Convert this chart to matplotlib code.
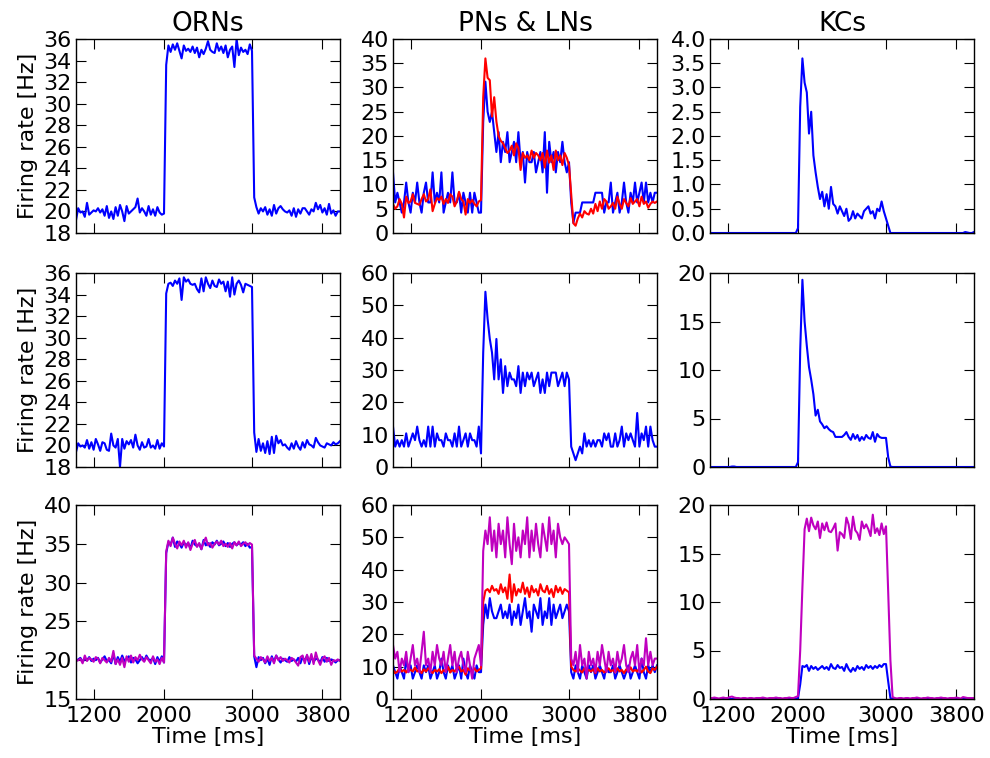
'''firing rates of the olfactory model, three conditions'''

import numpy as np
from matplotlib import pyplot as plt

# time axis of the rate histograms (25 ms bins)
time = np.arange(1000, 4001, 25)

titles = ['ORNs', 'PNs & LNs', 'KCs']
xticks = [1200, 2000, 3000, 3800]

# ---- ORNs ----
orn_1 = [19.2, 20.3, 19.9, 20.0, 19.5, 20.8, 19.7, 19.9, 20.1, 20.0,
         20.3, 19.9, 20.2, 19.6, 20.5, 19.4, 20.0, 19.3, 20.4, 19.6,
         20.6, 20.0, 19.1, 20.5, 19.8, 20.0, 20.2, 20.4, 21.2, 19.9,
         20.3, 20.0, 19.6, 20.5, 19.7, 20.2, 19.6, 20.4, 19.9, 19.7,
         19.8, 33.6, 35.4, 34.8, 35.5, 35.0, 35.6, 34.9, 34.2, 35.4,
         34.9, 35.1, 34.8, 35.3, 34.7, 35.2, 34.3, 35.0, 34.6, 35.1,
         35.8, 35.0, 34.8, 34.7, 35.6, 34.9, 35.3, 34.7, 35.4, 34.3,
         35.0, 35.3, 33.4, 36.0, 34.5, 35.2, 34.8, 35.0, 34.6, 35.5,
         34.9, 21.3, 20.4, 19.8, 20.3, 20.0, 20.4, 19.7, 20.2, 19.6,
         20.6, 19.8, 20.3, 20.5, 20.2, 20.0, 19.9, 20.1, 19.6, 20.3,
         19.5, 20.2, 19.8, 20.3, 20.3, 20.0, 19.7, 20.2, 20.0, 20.8,
         20.2, 20.6, 19.9, 20.3, 19.7, 20.7, 19.8, 20.1, 19.6, 20.0,
         20.0]
orn_2 = [19.4, 20.2, 19.9, 20.0, 19.8, 20.5, 19.7, 20.3, 19.6, 20.6,
         20.1, 19.5, 20.3, 20.2, 19.6, 19.5, 21.1, 20.0, 19.8, 20.6,
         18.0, 20.6, 19.7, 20.4, 20.1, 20.5, 19.8, 21.0, 20.0, 19.6,
         20.3, 19.8, 19.9, 20.6, 19.8, 20.0, 19.7, 20.5, 19.7, 20.2,
         19.9, 34.1, 35.0, 35.1, 34.8, 35.3, 35.0, 35.5, 33.5, 35.6,
         35.2, 35.4, 35.0, 34.9, 35.0, 34.5, 34.2, 35.5, 34.3, 35.6,
         35.0, 34.6, 35.3, 34.8, 34.7, 35.4, 35.0, 35.2, 34.3, 35.2,
         33.8, 35.6, 34.0, 35.0, 35.3, 34.9, 34.2, 35.0, 34.9, 34.8,
         34.7, 21.2, 19.4, 20.6, 19.5, 20.2, 19.3, 20.4, 19.2, 20.8,
         19.3, 20.9, 20.2, 20.5, 20.0, 20.1, 19.8, 19.6, 20.2, 19.7,
         20.4, 19.9, 19.6, 20.3, 19.8, 20.5, 20.1, 20.0, 19.8, 20.7,
         20.3, 20.0, 19.9, 19.8, 20.2, 20.1, 20.0, 20.3, 20.1, 20.2,
         20.4]
orn_3b = [19.9, 20.1, 20.3, 19.8, 20.2, 20.0, 20.4, 19.9, 20.2, 20.0,
          20.3, 19.7, 20.1, 20.5, 19.9, 20.0, 19.6, 20.8, 19.5, 20.4,
          19.8, 20.6, 19.9, 20.2, 20.5, 19.7, 20.3, 20.1, 19.6, 20.0,
          20.4, 19.9, 20.6, 20.1, 20.0, 20.3, 19.5, 20.4, 19.8, 20.5,
          19.7, 33.8, 35.2, 34.9, 35.8, 34.6, 35.3, 35.0, 34.5, 35.2,
          34.8, 35.1, 34.4, 35.4, 34.9, 34.7, 35.0, 34.3, 35.5, 34.8,
          35.1, 34.6, 35.2, 34.9, 35.4, 34.8, 35.0, 35.3, 34.7, 35.1,
          34.6, 35.0, 35.2, 34.8, 35.1, 34.9, 35.2, 34.7, 35.0, 34.5,
          34.6, 20.5, 19.1, 20.4, 20.0, 20.3, 19.6, 20.2, 19.4, 20.5,
          19.8, 20.6, 20.1, 19.7, 20.2, 20.0, 19.8, 20.4, 19.9, 20.1,
          19.8, 20.3, 19.6, 20.4, 19.9, 20.6, 19.5, 20.5, 19.8, 20.2,
          20.1, 19.7, 20.4, 19.8, 20.3, 19.9, 20.1, 20.0, 19.7, 20.0,
          20.0]
orn_3m = [19.9, 20.0, 20.2, 19.6, 20.6, 19.9, 20.3, 20.1, 19.8, 20.4,
          20.2, 19.6, 20.3, 20.0, 19.7, 20.3, 19.8, 21.2, 19.5, 20.1,
          19.4, 20.3, 19.1, 20.5, 19.8, 20.6, 19.7, 20.4, 20.0, 20.7,
          20.1, 19.8, 20.4, 20.0, 19.6, 20.5, 19.8, 20.1, 19.5, 20.3,
          19.7, 34.0, 35.4, 34.7, 35.8, 35.0, 34.4, 35.3, 34.8, 35.4,
          34.5, 35.2, 34.2, 35.0, 35.5, 34.6, 35.1, 34.3, 35.2, 35.8,
          34.8, 35.1, 34.5, 35.0, 35.3, 34.9, 35.4, 34.7, 35.0, 34.6,
          35.1, 34.4, 35.2, 34.8, 35.3, 34.7, 35.0, 35.2, 34.8, 35.1,
          34.9, 20.6, 20.2, 19.8, 20.4, 20.1, 19.7, 20.5, 19.9, 20.3,
          19.6, 20.6, 20.0, 20.4, 19.9, 20.2, 20.0, 19.7, 20.3, 20.1,
          19.7, 19.3, 20.4, 20.6, 19.6, 20.7, 19.8, 20.8, 19.5, 21.0,
          20.0, 19.4, 20.2, 20.5, 19.8, 20.3, 19.4, 20.0, 19.9, 20.1,
          19.9]

# ---- PNs (blue), LNs (red), third condition (magenta) ----
pn_1b = [12.5, 6.3, 8.3, 6.3, 4.2, 6.3, 10.4, 6.3, 4.2, 8.3,
         6.3, 10.4, 6.3, 4.2, 8.3, 10.4, 6.3, 6.3, 12.5, 6.3,
         8.3, 6.3, 12.5, 4.2, 6.3, 8.3, 6.3, 12.5, 6.3, 6.3,
         8.3, 4.2, 8.3, 6.3, 4.2, 8.3, 4.2, 8.3, 6.3, 4.2,
         4.2, 22.9, 31.2, 25.0, 22.9, 25.0, 20.8, 16.7, 20.8, 14.6,
         18.8, 16.7, 20.8, 14.6, 16.7, 18.8, 14.6, 20.8, 14.6, 16.7,
         10.4, 16.7, 14.6, 14.6, 16.7, 12.5, 14.6, 16.7, 12.5, 20.8,
         8.3, 18.8, 14.6, 16.7, 12.5, 16.7, 14.6, 18.8, 14.6, 12.5,
         14.6, 6.3, 2.1, 4.2, 4.2, 4.2, 6.3, 6.3, 6.3, 6.3,
         6.3, 6.3, 8.3, 8.3, 8.3, 8.3, 4.2, 6.3, 6.3, 10.4,
         4.2, 6.3, 8.3, 4.2, 6.3, 10.4, 6.3, 4.2, 8.3, 6.3,
         10.4, 6.3, 8.3, 10.4, 6.3, 10.4, 6.3, 8.3, 6.3, 8.3,
         8.3]
pn_1r = [6.0, 5.0, 5.5, 7.0, 6.0, 3.2, 7.5, 6.2, 6.5, 8.0,
         6.2, 6.0, 5.8, 7.0, 8.0, 6.5, 7.0, 9.0, 4.5, 6.0,
         7.2, 6.8, 7.5, 6.0, 7.0, 6.2, 8.0, 7.5, 5.5, 6.5,
         8.5, 7.0, 6.5, 3.8, 7.0, 6.2, 6.8, 6.0, 5.5, 6.5,
         6.8, 28.0, 36.0, 32.0, 31.5, 24.0, 28.0, 23.0, 20.0, 19.0,
         18.5, 17.5, 16.5, 17.0, 18.0, 16.0, 18.5, 17.5, 13.0, 16.5,
         15.5, 16.0, 15.0, 17.0, 15.5, 16.5, 16.0, 15.0, 16.5, 13.5,
         17.0, 14.5, 16.0, 13.0, 17.0, 15.0, 16.0, 14.0, 16.5, 15.5,
         14.0, 8.0, 2.0, 1.5, 3.0, 4.0, 3.2, 4.5, 4.0, 3.8,
         5.0, 4.0, 6.0, 4.5, 6.5, 5.0, 7.0, 6.5, 5.0, 5.5,
         6.2, 5.0, 7.5, 6.0, 5.0, 7.0, 6.2, 5.5, 7.2, 6.0,
         6.5, 7.0, 5.5, 7.5, 6.0, 6.5, 5.2, 6.0, 6.5, 6.2,
         6.5]
pn_2b = [12.5, 6.3, 8.3, 6.3, 8.3, 6.3, 10.4, 6.3, 8.3, 10.4,
         8.3, 12.5, 8.3, 6.3, 8.3, 6.3, 12.5, 6.3, 12.5, 6.3,
         10.4, 8.3, 8.3, 6.3, 10.4, 8.3, 8.3, 6.3, 10.4, 6.3,
         12.5, 6.3, 8.3, 10.4, 6.3, 10.4, 8.3, 8.3, 6.3, 12.5,
         4.2, 35.4, 54.2, 45.8, 39.6, 35.4, 27.1, 39.6, 27.1, 33.3,
         22.9, 31.2, 25.0, 29.2, 27.1, 27.1, 25.0, 31.2, 22.9, 29.2,
         25.0, 29.2, 27.1, 29.2, 25.0, 27.1, 29.2, 22.9, 27.1, 22.9,
         29.2, 25.0, 29.2, 29.2, 29.2, 25.0, 27.1, 29.2, 25.0, 29.2,
         27.1, 6.3, 4.2, 2.1, 4.2, 6.3, 4.2, 10.4, 6.3, 8.3,
         6.3, 8.3, 6.3, 8.3, 8.3, 6.3, 10.4, 8.3, 10.4, 6.3,
         6.3, 10.4, 6.3, 8.3, 12.5, 6.3, 10.4, 8.3, 10.4, 8.3,
         6.3, 16.7, 6.3, 10.4, 8.3, 12.5, 6.3, 12.5, 8.3, 6.3,
         6.3]
pn_3b = [10.4, 8.3, 6.3, 10.4, 8.3, 6.3, 12.5, 8.3, 10.4, 6.3,
         8.3, 10.4, 8.3, 6.3, 10.4, 8.3, 10.4, 6.3, 8.3, 10.4,
         6.3, 8.3, 12.5, 8.3, 6.3, 10.4, 8.3, 10.4, 6.3, 8.3,
         10.4, 6.3, 12.5, 8.3, 6.3, 10.4, 8.3, 6.3, 10.4, 8.3,
         8.3, 22.9, 29.2, 25.0, 31.2, 27.1, 25.0, 25.0, 27.1, 29.2,
         25.0, 27.1, 25.0, 29.2, 22.9, 27.1, 25.0, 29.2, 22.9, 27.1,
         31.2, 25.0, 27.1, 20.8, 29.2, 27.1, 25.0, 31.2, 22.9, 27.1,
         25.0, 31.2, 22.9, 29.2, 25.0, 27.1, 29.2, 25.0, 27.1, 29.2,
         27.1, 8.3, 6.3, 10.4, 8.3, 6.3, 10.4, 8.3, 6.3, 10.4,
         8.3, 10.4, 6.3, 8.3, 10.4, 8.3, 6.3, 10.4, 8.3, 8.3,
         10.4, 6.3, 8.3, 10.4, 8.3, 6.3, 8.3, 10.4, 6.3, 8.3,
         10.4, 8.3, 6.3, 12.5, 8.3, 6.3, 10.4, 8.3, 10.4, 8.3,
         10.4]
pn_3r = [9.0, 8.0, 8.5, 9.5, 8.5, 9.0, 8.2, 9.5, 9.0, 8.5,
         9.8, 8.5, 9.0, 8.0, 9.2, 8.5, 9.5, 8.8, 8.0, 9.0,
         8.5, 9.2, 8.0, 9.0, 8.5, 10.0, 8.2, 9.0, 8.5, 9.5,
         10.0, 8.5, 9.0, 7.5, 9.5, 8.8, 8.5, 9.5, 8.5, 9.0,
         9.5, 30.0, 33.5, 34.0, 33.0, 35.0, 33.5, 34.0, 32.5, 35.5,
         33.0, 34.5, 31.0, 38.5, 30.0, 35.5, 32.0, 34.0, 33.0, 36.0,
         32.5, 34.5, 31.5, 35.0, 33.0, 34.0, 32.0, 35.5, 33.5, 33.0,
         35.0, 32.5, 34.0, 31.5, 35.0, 33.0, 34.5, 32.5, 34.0, 33.5,
         33.0, 10.0, 9.0, 8.5, 9.5, 8.8, 8.2, 9.5, 8.5, 9.0,
         8.5, 9.2, 8.0, 9.5, 8.5, 9.0, 8.2, 8.8, 9.5, 8.5,
         9.0, 8.2, 9.5, 8.5, 9.0, 8.0, 9.2, 8.5, 9.8, 8.5,
         9.0, 8.5, 9.5, 8.2, 9.0, 10.0, 8.5, 8.0, 9.5, 9.0,
         10.0]
pn_3m = [16.7, 12.5, 14.6, 8.3, 12.5, 10.4, 14.6, 8.3, 12.5, 16.7,
         10.4, 12.5, 8.3, 14.6, 20.8, 10.4, 12.5, 8.3, 14.6, 10.4,
         16.7, 12.5, 10.4, 14.6, 8.3, 12.5, 16.7, 10.4, 14.6, 8.3,
         12.5, 14.6, 10.4, 8.3, 14.6, 10.4, 6.3, 12.5, 14.6, 16.7,
         10.4, 45.8, 52.1, 47.9, 56.2, 45.8, 52.1, 43.8, 54.2, 47.9,
         52.1, 43.8, 56.2, 47.9, 41.7, 54.2, 45.8, 50.0, 43.8, 52.1,
         47.9, 56.2, 43.8, 52.1, 45.8, 54.2, 47.9, 43.8, 54.2, 50.0,
         45.8, 56.2, 47.9, 52.1, 43.8, 54.2, 50.0, 47.9, 50.0, 49.0,
         47.9, 12.5, 10.4, 14.6, 8.3, 16.7, 10.4, 12.5, 6.3, 14.6,
         10.4, 12.5, 8.3, 14.6, 10.4, 16.7, 12.5, 8.3, 14.6, 10.4,
         12.5, 8.3, 14.6, 10.4, 12.5, 16.7, 10.4, 8.3, 12.5, 14.6,
         10.4, 16.7, 8.3, 12.5, 10.4, 18.8, 10.4, 14.6, 10.4, 12.5,
         12.5]

# ---- KCs ----
kc_1 = [0, 0, 0, 0, 0, 0, 0, 0, 0, 0,
        0, 0, 0, 0, 0, 0, 0, 0, 0, 0,
        0, 0, 0, 0, 0, 0, 0, 0, 0, 0,
        0, 0, 0, 0, 0, 0, 0, 0, 0, 0,
        0.1, 2.6, 3.6, 3.1, 2.9, 2.05, 2.5, 1.6, 1.25, 0.95,
        0.7, 0.85, 0.55, 0.8, 0.5, 0.95, 0.6, 0.55, 0.4, 0.55,
        0.45, 0.35, 0.5, 0.25, 0.3, 0.45, 0.3, 0.4, 0.35, 0.3,
        0.45, 0.5, 0.55, 0.4, 0.45, 0.3, 0.5, 0.45, 0.65, 0.45,
        0.3, 0.15, 0.0, 0, 0, 0, 0, 0, 0, 0,
        0, 0, 0, 0, 0, 0, 0, 0, 0, 0,
        0, 0, 0, 0, 0, 0, 0, 0, 0, 0,
        0, 0, 0, 0, 0, 0, 0.02, 0.01, 0, 0,
        0.02]
kc_2 = [0, 0, 0, 0, 0, 0, 0, 0, 0, 0,
        0.05, 0.05, 0, 0, 0, 0, 0, 0, 0, 0,
        0, 0, 0, 0, 0, 0, 0, 0, 0, 0,
        0, 0, 0, 0, 0, 0, 0, 0, 0, 0,
        0.5, 12.0, 19.3, 15.0, 12.5, 10.3, 9.0, 7.5, 5.3, 5.9,
        4.7, 4.4, 4.0, 4.2, 3.9, 3.7, 3.6, 3.1, 3.1, 3.1,
        3.1, 3.3, 3.6, 3.1, 2.8, 3.4, 2.9, 3.3, 2.7, 3.1,
        2.8, 3.3, 3.0, 2.9, 3.6, 2.6, 3.4, 3.1, 3.0, 3.0,
        3.0, 1.0, 0.05, 0, 0, 0, 0, 0, 0, 0,
        0, 0, 0, 0, 0, 0, 0, 0, 0, 0,
        0, 0, 0, 0, 0, 0, 0, 0, 0, 0,
        0, 0, 0, 0, 0, 0, 0, 0, 0, 0,
        0]
kc_3b = [0, 0, 0, 0, 0, 0, 0, 0, 0, 0,
         0, 0, 0, 0, 0, 0, 0, 0, 0, 0,
         0, 0, 0, 0, 0, 0, 0, 0, 0, 0,
         0, 0, 0, 0, 0, 0, 0, 0, 0, 0,
         0.1, 1.5, 3.4, 3.3, 3.5, 2.9, 3.4, 3.1, 3.3, 3.0,
         3.2, 3.4, 3.1, 3.3, 3.0, 3.6, 3.2, 3.1, 3.5, 3.2,
         3.3, 2.9, 3.6, 3.1, 2.8, 3.2, 2.9, 3.4, 3.1, 3.3,
         3.0, 3.5, 3.2, 3.4, 3.1, 3.4, 3.2, 3.5, 3.3, 3.6,
         3.6, 1.8, 0.1, 0, 0, 0, 0, 0, 0, 0,
         0, 0, 0, 0, 0, 0, 0, 0, 0, 0,
         0, 0, 0, 0, 0, 0, 0, 0, 0, 0,
         0, 0, 0, 0, 0, 0, 0, 0, 0, 0,
         0]
kc_3m = [0.1, 0.1, 0.15, 0.1, 0.05, 0.1, 0.15, 0.1, 0.1, 0.2,
         0.25, 0.15, 0.1, 0.1, 0.05, 0.1, 0.1, 0.05, 0.1, 0.1,
         0.05, 0.1, 0.1, 0.1, 0.15, 0.1, 0.05, 0.1, 0.1, 0.1,
         0.15, 0.1, 0.1, 0.05, 0.1, 0.1, 0.15, 0.1, 0.1, 0.2,
         0.3, 5.0, 11.5, 17.5, 18.6, 17.3, 18.7, 17.9, 17.5, 18.3,
         16.6, 18.1, 17.4, 18.2, 17.3, 17.2, 17.6, 18.1, 15.3, 17.2,
         17.0, 16.6, 18.7, 18.0, 16.5, 18.8, 17.4, 17.1, 16.4, 18.3,
         17.6, 18.0, 17.5, 16.8, 19.0, 17.1, 17.6, 16.9, 18.1, 17.0,
         17.8, 11.0, 4.0, 0.2, 0.1, 0.05, 0.1, 0.1, 0.05, 0.1,
         0.1, 0.05, 0.1, 0.1, 0.15, 0.1, 0.05, 0.1, 0.1, 0.15,
         0.1, 0.1, 0.05, 0.1, 0.1, 0.15, 0.1, 0.1, 0.05, 0.1,
         0.1, 0.1, 0.15, 0.1, 0.05, 0.2, 0.15, 0.1, 0.1, 0.1,
         0.1]

# old-style look: ticks inside on every side
plt.rcParams.update({'font.family': 'DejaVu Sans',
                     'xtick.direction': 'in', 'ytick.direction': 'in',
                     'xtick.top': True, 'ytick.right': True,
                     'xtick.major.size': 7, 'ytick.major.size': 7,
                     'xtick.major.pad': 5, 'ytick.major.pad': 3,
                     'xtick.labelsize': 16, 'ytick.labelsize': 16,
                     'axes.linewidth': 1.0})

# (row, col): curves, y limits, y tick step
panels = {(0, 0): ([(orn_1, 'b')], (18, 36), 2),
          (0, 1): ([(pn_1b, 'b'), (pn_1r, 'r')], (0, 40), 5),
          (0, 2): ([(kc_1, 'b')], (0, 4), 0.5),
          (1, 0): ([(orn_2, 'b')], (18, 36), 2),
          (1, 1): ([(pn_2b, 'b')], (0, 60), 10),
          (1, 2): ([(kc_2, 'b')], (0, 20), 5),
          (2, 0): ([(orn_3b, 'b'), (orn_3m, 'm')], (15, 40), 5),
          (2, 1): ([(pn_3b, 'b'), (pn_3r, 'r'), (pn_3m, 'm')], (0, 60), 10),
          (2, 2): ([(kc_3b, 'b'), (kc_3m, 'm')], (0, 20), 5)}

lefts = [76 / 990., 393 / 990., 710 / 990.]
bottoms = [525 / 758., 291 / 758., 59 / 758.]
w, h = 264 / 990., 194 / 758.

fig = plt.figure(figsize=(9.9, 7.58), dpi=100)
for (r, c), (curves, ylim, step) in panels.items():
    ax = fig.add_axes([lefts[c], bottoms[r], w, h])
    for vals, col in curves:
        assert len(vals) == len(time)
        ax.plot(time, vals, color=col, lw=1.5)
    ax.set_xlim(1000, 4000)
    ax.set_ylim(*ylim)
    ax.set_xticks(xticks)
    ax.set_yticks(np.arange(ylim[0], ylim[1] + step / 2., step))
    if r == 0:
        ax.set_title(titles[c], fontsize=19)
    if c == 0:
        ax.set_ylabel('Firing rate [Hz]', fontsize=16)
    if r == 2:
        ax.set_xlabel('Time [ms]', fontsize=16, labelpad=1)
    else:
        ax.set_xticklabels([])

fig.savefig('out.png', dpi=100)
